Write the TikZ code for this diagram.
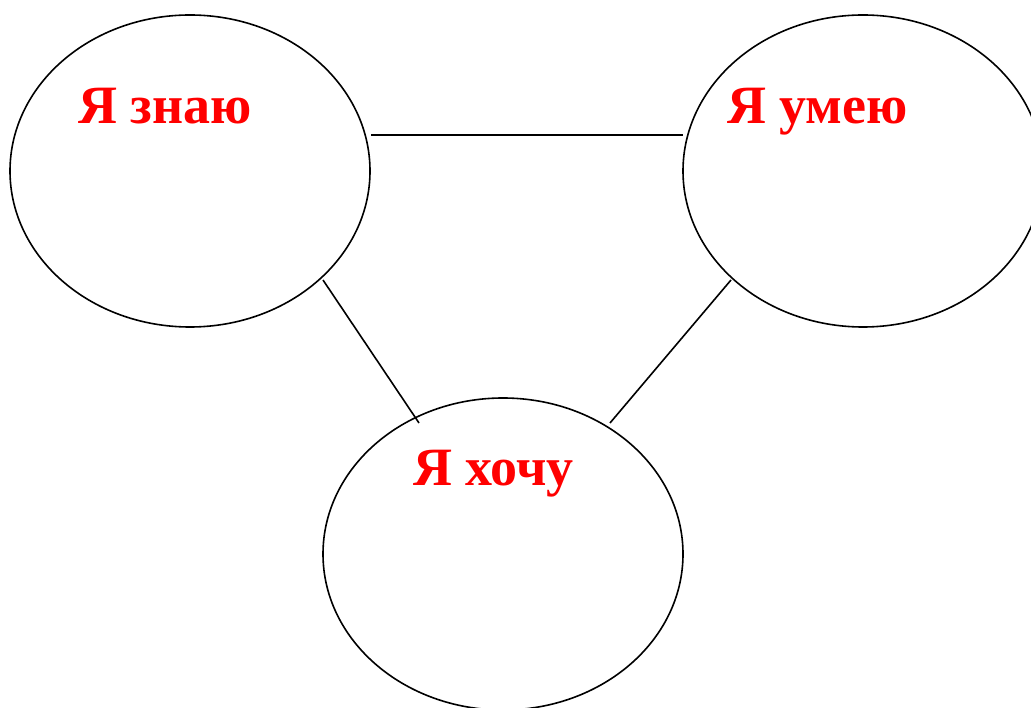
\documentclass[tikz,border=0pt]{standalone}
\usepackage{fontspec}
\setmainfont{Liberation Serif}
\usetikzlibrary{shapes.geometric}
\begin{document}
\begin{tikzpicture}[x=1pt,y=-1pt,
  oval/.style={draw=black,line width=1.6pt,ellipse,inner sep=0pt,minimum width=360pt,minimum height=312pt},
  lbl/.style={anchor=base west,inner sep=0pt,text=red,font=\fontsize{54}{62}\selectfont\bfseries},
  link/.style={draw=black,line width=1.6pt}]
\useasboundingbox (0,0) rectangle (1031,708);
\clip (0,0) rectangle (1031,708);
\node[oval] (know) at (190,171) {};
\node[oval] (can) at (863,171) {};
\node[oval] (want) at (503,554) {};
\node[lbl] (tknow) at (78,124) {Я знаю};
\node[lbl] (tcan) at (727,124) {Я умею};
\node[lbl] (twant) at (413,485) {Я хочу};
\coordinate (a1) at (371,135);
\coordinate (a2) at (683,135);
\coordinate (b1) at (323,280);
\coordinate (b2) at (419,423);
\coordinate (c1) at (731,280);
\coordinate (c2) at (610,423);
\draw[link] (a1) -- (a2);
\draw[link] (b1) -- (b2);
\draw[link] (c1) -- (c2);
\end{tikzpicture}
\end{document}
